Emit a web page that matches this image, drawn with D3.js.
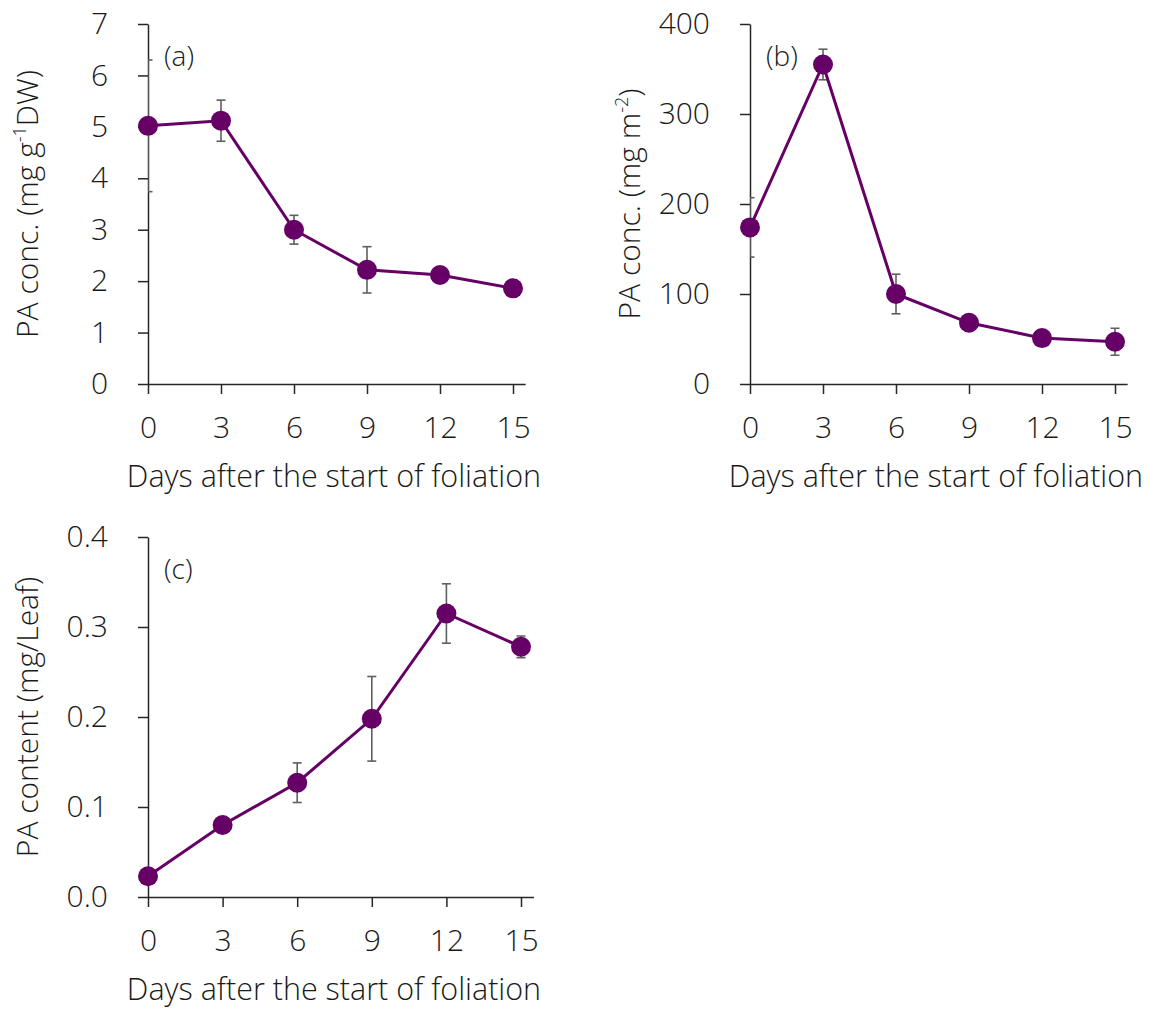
<!DOCTYPE html>
<html lang="en">
<head>
<meta charset="utf-8">
<title>PA concentration after foliation</title>
<script src="https://cdn.jsdelivr.net/npm/d3@7"></script>
<style>
    body {
      margin: 0;
      background: #fff;
    }
    svg text {
      font-family: "Open Sans", "Noto Sans", sans-serif;
      font-weight: 350;
      fill: #1a1a1a;
    }
    .axis path, .axis line {
      stroke: #262626;
      stroke-width: 1.5;
    }
    .err {
      stroke: #5f5f5f;
      stroke-width: 1.6;
    }
</style>
</head>
<body>
<svg width="1154" height="1012"></svg>
<script>
// days after the start of foliation
var days = [0, 3, 6, 9, 12, 15];
var dayTicks = [0, 3, 6, 9, 12, 15];

// (a) PA conc. per dry weight
var concDW = [5.02, 5.12, 3.0, 2.22, 2.12, 1.86];
var concDWErr = [1.28, 0.40, 0.28, 0.45, 0.05, 0.15];
var ticksA = [0, 1, 2, 3, 4, 5, 6, 7];

// (b) PA conc. per leaf area
var concArea = [174, 355, 100, 68, 51, 47];
var concAreaErr = [33, 17, 22, 4, 3, 15];
var ticksB = [0, 100, 200, 300, 400];

// (c) PA content per leaf
var contentLeaf = [0.023, 0.080, 0.127, 0.198, 0.315, 0.278];
var contentLeafErr = [0.002, 0.004, 0.022, 0.047, 0.033, 0.012];
var ticksC = [0, 0.1, 0.2, 0.3, 0.4];

var svg = d3.select("svg");
var purple = "#660066";

var panels = [
  { id: "a", x0: 148, x15: 513, yTop: 24, y0: 384, values: concDW, errs: concDWErr,
    ticks: ticksA, fmt: d3.format("d"), tag: "(a)",
    ylab: ["PA conc. (mg g", "-1", "DW)"] },
  { id: "b", x0: 750, x15: 1115, yTop: 24, y0: 384, values: concArea, errs: concAreaErr,
    ticks: ticksB, fmt: d3.format("d"), tag: "(b)",
    ylab: ["PA conc. (mg m", "-2", ")"] },
  { id: "c", x0: 148, x15: 521, yTop: 537, y0: 897, values: contentLeaf, errs: contentLeafErr,
    ticks: ticksC, fmt: d3.format(".1f"), tag: "(c)",
    ylab: ["PA content (mg/Leaf)"] }
];

panels.forEach(function(p) {
  var xEnd = p.x0 + (p.x15 - p.x0) * 15.5 / 15;
  var x = d3.scaleLinear().domain([0, 15.5]).range([p.x0, xEnd]);
  var y = d3.scaleLinear().domain([0, d3.max(p.ticks)]).range([p.y0, p.yTop]);
  var g = svg.append("g");

  // axes
  var xa = g.append("g")
    .attr("class", "axis")
    .attr("transform", "translate(0," + p.y0 + ")")
    .call(d3.axisBottom(x).tickValues(dayTicks).tickSize(10).tickSizeOuter(0));
  xa.selectAll("text")
    .attr("y", 54).attr("dy", null)
    .attr("font-size", 30);

  var ya = g.append("g")
    .attr("class", "axis")
    .attr("transform", "translate(" + p.x0 + ",0)")
    .call(d3.axisLeft(y).tickValues(p.ticks).tickFormat(p.fmt).tickSize(10).tickPadding(30).tickSizeOuter(0));
  ya.selectAll("text")
    .attr("font-size", 30);
  g.selectAll(".axis").attr("font-family", null).attr("font-size", null);

  // error bars, clipped at the y axis
  g.append("clipPath").attr("id", "clip-" + p.id)
    .append("rect")
    .attr("x", p.x0).attr("y", 0)
    .attr("width", xEnd - p.x0 + 20).attr("height", 1012);
  var eb = g.append("g").attr("clip-path", "url(#clip-" + p.id + ")");
  days.forEach(function(d, i) {
    var v = p.values[i], e = p.errs[i];
    eb.append("line").attr("class", "err")
      .attr("x1", x(d)).attr("x2", x(d))
      .attr("y1", y(v + e)).attr("y2", y(v - e));
    [v + e, v - e].forEach(function(c) {
      eb.append("line").attr("class", "err")
        .attr("x1", x(d) - 4.5).attr("x2", x(d) + 4.5)
        .attr("y1", y(c)).attr("y2", y(c));
    });
  });

  // line and markers
  var line = d3.line()
    .x(function(d, i) { return x(days[i]); })
    .y(function(d) { return y(d); });
  g.append("path")
    .datum(p.values)
    .attr("d", line)
    .attr("fill", "none")
    .attr("stroke", purple)
    .attr("stroke-width", 3);
  g.selectAll(".dot")
    .data(p.values)
    .enter()
    .append("circle")
    .attr("class", "dot")
    .attr("cx", function(d, i) { return x(days[i]); })
    .attr("cy", function(d) { return y(d); })
    .attr("r", 10)
    .attr("fill", purple);

  // panel tag
  g.append("text")
    .attr("x", p.x0 + 16)
    .attr("y", p.yTop + 42)
    .attr("font-size", 28)
    .text(p.tag);

  // x title
  g.append("text")
    .attr("x", p.x0 + 186)
    .attr("y", p.y0 + 103)
    .attr("text-anchor", "middle")
    .attr("font-size", 30.5)
    .text("Days after the start of foliation");

  // y title
  var yt = g.append("text")
    .attr("transform", "translate(" + (p.x0 - 110) + "," + ((p.y0 + p.yTop) / 2) + ") rotate(-90)")
    .attr("text-anchor", "middle")
    .attr("font-size", 30);
  yt.append("tspan").text(p.ylab[0]);
  if (p.ylab.length > 1) {
    yt.append("tspan").attr("font-size", 18).attr("dy", -12).text(p.ylab[1]);
    yt.append("tspan").attr("dy", 12).text(p.ylab[2]);
  }
});
</script>
</body>
</html>
